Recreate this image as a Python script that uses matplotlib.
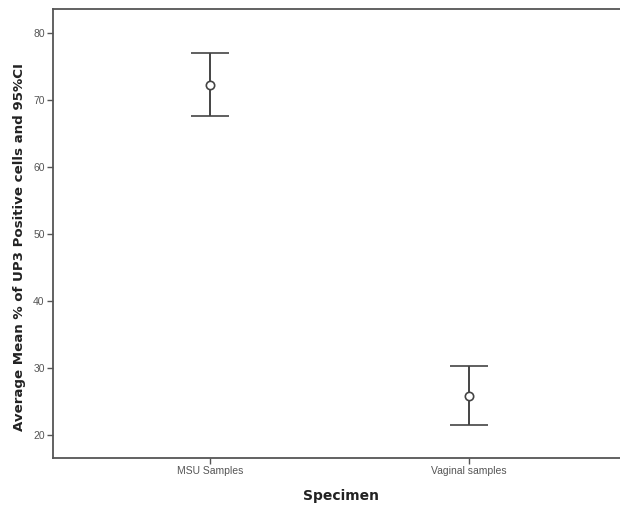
import matplotlib.pyplot as plt

categories = ["MSU Samples", "Vaginal samples"]
means = [72.3, 25.9]
ci_lower = [67.7, 21.5]
ci_upper = [77.1, 30.4]
y_ticks = [20, 30, 40, 50, 60, 70, 80]

plt.rcParams['font.family'] = ['Liberation Sans', 'DejaVu Sans']

fig = plt.figure(figsize=(6.2, 5.08), dpi=100)
ax = fig.add_axes([0.0855, 0.0984, 0.9145, 0.8846])

x = list(range(len(categories)))
err_low = [m - lo for m, lo in zip(means, ci_lower)]
err_high = [hi - m for m, hi in zip(means, ci_upper)]
ax.errorbar(x, means, yerr=[err_low, err_high], fmt='o', color='#444444',
            mfc='white', mec='#444444', ms=6, mew=1.2,
            ecolor='#444444', elinewidth=1.4, capsize=14, capthick=1.4)

ax.set_xlim(-0.606, 1.583)
ax.set_ylim(16.6, 83.7)
ax.set_xticks(x)
ax.set_xticklabels(categories)
ax.set_yticks(y_ticks)

for side in ['left', 'bottom', 'top']:
    ax.spines[side].set_color('#555555')
    ax.spines[side].set_linewidth(1.3)
ax.spines['right'].set_visible(False)

ax.tick_params(axis='both', colors='#555555', labelsize=7.5, length=4, width=1,
               labelcolor='#555555')
ax.tick_params(axis='y', pad=2)
ax.tick_params(axis='x', pad=2)

ax.set_xlabel("Specimen", fontsize=10, fontweight='bold', color='#222222',
              labelpad=9, family='DejaVu Sans')
ax.set_ylabel("Average Mean % of UP3 Positive cells and 95%CI", fontsize=9.6,
              fontweight='bold', color='#222222', labelpad=5, family='DejaVu Sans')
ax.xaxis.label.set_x(0.508)
ax.yaxis.label.set_y(0.469)

fig.savefig("out.png", dpi=100)
